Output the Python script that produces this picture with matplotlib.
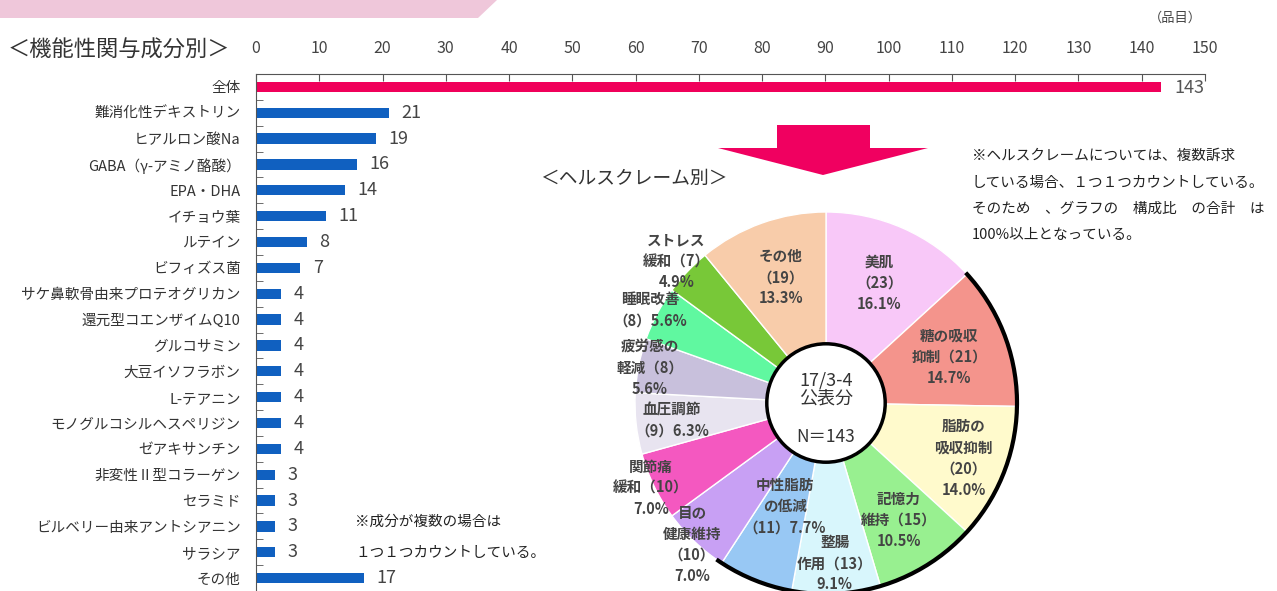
import matplotlib
matplotlib.use('Agg')
import matplotlib.pyplot as plt
from matplotlib.patches import Polygon, Circle, Arc
import numpy as np

plt.rcParams['font.family'] = ['Noto Sans CJK JP', 'DejaVu Sans']

W, H = 1277, 591

# 機能性関与成分別（品目）
ingredients = ['全体', '難消化性デキストリン', 'ヒアルロン酸Na', 'GABA（γ-アミノ酪酸）', 'EPA・DHA',
               'イチョウ葉', 'ルテイン', 'ビフィズス菌', 'サケ鼻軟骨由来プロテオグリカン',
               '還元型コエンザイムQ10', 'グルコサミン', '大豆イソフラボン', 'L-テアニン',
               'モノグルコシルヘスペリジン', 'ゼアキサンチン', '非変性Ⅱ型コラーゲン', 'セラミド',
               'ビルベリー由来アントシアニン', 'サラシア', 'その他']
counts = [143, 21, 19, 16, 14, 11, 8, 7, 4, 4, 4, 4, 4, 4, 4, 3, 3, 3, 3, 17]
x_ticks = list(range(0, 151, 10))

# ヘルスクレーム別
claims = ['美肌', '糖の吸収\n抑制', '脂肪の\n吸収抑制', '記憶力\n維持', '整腸\n作用', '中性脂肪\nの低減',
          '目の\n健康維持', '関節痛\n緩和', '血圧調節', '疲労感の\n軽減', '睡眠改善', 'ストレス\n緩和', 'その他']
claim_counts = [23, 21, 20, 15, 13, 11, 10, 10, 9, 8, 8, 7, 19]
claim_total = 143

# ラベルの書式 (A: 名前/件数/比率, B: 名前件数/比率, C: 名前/件数比率)
label_fmt = ['A', 'B', 'A', 'B', 'B', 'C', 'A', 'B', 'C', 'B', 'C', 'B', 'A']
label_r = [0.69, 0.69, 0.775, 0.72, 0.84, 0.58, 1.02, 1.02, 0.81, 0.94, 1.04, 1.08, 0.70]
claim_colors = ['#f8c8f8', '#f4948c', '#fffacc', '#98f090', '#d8f6fc', '#98c8f4', '#c8a0f4',
                '#f458c0', '#e8e4f0', '#c8c0dc', '#60f8a0', '#78c838', '#f8ccaa']

PINK = '#f0005a'
BLUE = '#1060c0'


def fx(x):
    return x / W


def fy(y):
    return 1 - y / H


fig = plt.figure(figsize=(W / 100, H / 100), dpi=100)
fig.patch.set_facecolor('white')

# ヘッダーの帯
fig.patches.append(Polygon([(fx(0), fy(0)), (fx(497), fy(0)), (fx(478), fy(18)), (fx(0), fy(18))],
                           closed=True, facecolor='#efc7da', edgecolor='none',
                           transform=fig.transFigure))

# ---- 棒グラフ ----
ax = fig.add_axes([fx(256), 0, (1205 - 256) / W, (591 - 74) / H])
ax.patch.set_alpha(0)
n = len(ingredients)
ypos = np.arange(n)
ax.barh(ypos, counts, height=0.4, color=[PINK] + [BLUE] * (n - 1))
ax.set_xlim(0, 150)
ax.set_ylim(n - 0.5, -0.5)
ax.xaxis.tick_top()
ax.set_xticks(x_ticks)
ax.tick_params(axis='x', direction='in', length=5, pad=12, labelsize=11.5,
               labelcolor='#444', color='#555')
ax.set_yticks(ypos)
ax.set_yticklabels(ingredients, fontsize=10.5, color='#333')
ax.tick_params(axis='y', length=0, pad=11)
ax.set_yticks(np.arange(0.5, n - 0.5), minor=True)
ax.tick_params(axis='y', which='minor', direction='in', length=5, color='#555')
for s in ['right', 'bottom']:
    ax.spines[s].set_visible(False)
for s in ['top', 'left']:
    ax.spines[s].set_color('#555')
for i, v in enumerate(counts):
    ax.annotate(str(v), (v, i), xytext=(10 if i == 0 else 9, -1 if i == 0 else 0),
                textcoords='offset points', va='center', ha='left', fontsize=13,
                color='#555' if i == 0 else '#444')

fig.text(fx(8), fy(50), '＜機能性関与成分別＞', fontsize=16, va='center', ha='left', color='#333')
fig.text(fx(1175), fy(18), '（品目）', fontsize=9.5, va='center', ha='center', color='#444')

fig.text(fx(355), fy(522), '※成分が複数の場合は', fontsize=10.5, va='center', ha='left', color='#222')
fig.text(fx(355), fy(553), '１つ１つカウントしている。', fontsize=10.5, va='center', ha='left', color='#222')

# ---- 矢印 ----
fig.patches.append(Polygon([(fx(777), fy(125)), (fx(870), fy(125)), (fx(870), fy(148)),
                            (fx(928), fy(148)), (fx(823), fy(175)), (fx(718), fy(148)),
                            (fx(777), fy(148))],
                           closed=True, facecolor='#f00060', edgecolor='none',
                           transform=fig.transFigure))

fig.text(fx(540), fy(178), '＜ヘルスクレーム別＞', fontsize=13.5, va='center', ha='left', color='#333')

# ---- 円グラフ ----
cx, cy, R = 826, 403, 191
half = 1.5 * R
ax2 = fig.add_axes([fx(cx - half), fy(cy + half), 2 * half / W, 2 * half / H])
ax2.patch.set_alpha(0)
wedges, _ = ax2.pie(claim_counts, colors=claim_colors, startangle=90, counterclock=False,
                    radius=1, wedgeprops=dict(edgecolor='white', linewidth=1))
ax2.set_xlim(-1.5, 1.5)
ax2.set_ylim(-1.5, 1.5)
ax2.set_aspect('equal')
ax2.axis('off')

ax2.add_patch(Arc((0, 0), 2, 2, theta1=-125, theta2=43, color='black', lw=3))
ax2.add_patch(Circle((0, 0), 0.31, facecolor='white', edgecolor='black', lw=2.5))

for w, name, c, fmt, r in zip(wedges, claims, claim_counts, label_fmt, label_r):
    pct = '%.1f%%' % (c / claim_total * 100)
    if fmt == 'A':
        s = '%s\n（%d）\n%s' % (name, c, pct)
    elif fmt == 'B':
        s = '%s（%d）\n%s' % (name, c, pct)
    else:
        s = '%s\n（%d）%s' % (name, c, pct)
    ang = np.deg2rad((w.theta1 + w.theta2) / 2)
    ax2.text(r * np.cos(ang), r * np.sin(ang), s, ha='center', va='center', fontsize=10.5,
             fontweight='bold', color='#444', linespacing=1.4, clip_on=False)

ax2.text(0, 0.07, '17/3-4\n公表分', ha='center', va='center', fontsize=13,
         color='#333', linespacing=0.95)
ax2.text(0, -0.18, 'N＝143', ha='center', va='center', fontsize=12.5, color='#333')

# ---- 注記 ----
notes = ['※ヘルスクレームについては、複数訴求', 'している場合、１つ１つカウントしている。',
         'そのため　、グラフの　構成比　の合計　は', '100%以上となっている。']
for k, line in enumerate(notes):
    fig.text(fx(972), fy(156 + 26.5 * k), line, fontsize=10.5, va='center', ha='left', color='#222')

fig.savefig('out.png', dpi=100)
